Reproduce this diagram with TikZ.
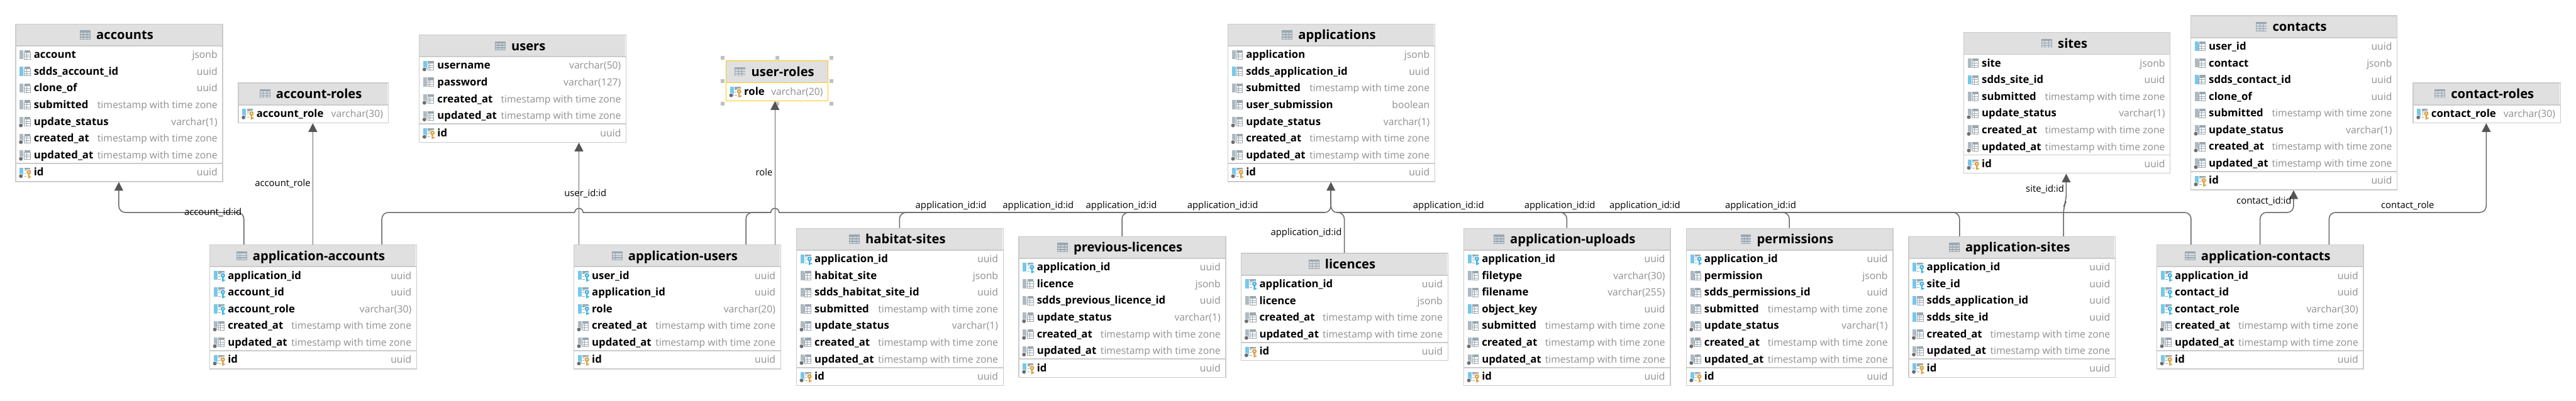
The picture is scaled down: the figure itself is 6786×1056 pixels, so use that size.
\documentclass[tikz,border=0pt]{standalone}
\usepackage{fontspec}
\setmainfont{Open Sans}
\usetikzlibrary{arrows.meta}

\definecolor{headfill}{HTML}{E0E0E0}
\definecolor{boxline}{HTML}{CBCBCB}
\definecolor{pickline}{HTML}{FFC90E}
\definecolor{handlegrey}{HTML}{C0C0C0}
\definecolor{typegrey}{HTML}{8F8F8F}
\definecolor{linkgrey}{HTML}{666666}
\definecolor{tipgrey}{HTML}{555555}
\definecolor{iconslate}{HTML}{9AA7B0}
\definecolor{icongrey}{HTML}{AEBAC2}
\definecolor{iconblue}{HTML}{76C8EA}
\definecolor{iconcell}{HTML}{D3D8DC}
\definecolor{icondot}{HTML}{6E6E6E}
\definecolor{keyblue}{HTML}{3DB4E6}
\definecolor{keyorange}{HTML}{DBA23F}

\tikzset{
    tablebox/.style={line width=0.6pt, inner sep=0pt, anchor=north west},
    tabletitle/.style={font=\bfseries\fontsize{9.5}{11}\selectfont, inner sep=0pt, anchor=base},
    colname/.style={font=\bfseries\fontsize{7.9}{9}\selectfont, inner sep=0pt, anchor=base west},
    coltype/.style={font=\fontsize{7.4}{9}\selectfont, text=typegrey, inner sep=0pt, anchor=base east},
    linklabel/.style={font=\fontsize{7}{9}\selectfont, inner sep=0pt, anchor=base},
    iconrule/.style={draw=iconslate, line width=0.45pt},
    buslink/.style={draw=linkgrey, line width=0.7pt},
    fklink/.style={buslink, rounded corners=1.7mm},
    fkarrow/.style={fklink, -{Triangle[length=2.3mm,width=2.3mm,color=tipgrey]}},
    handlemark/.style={fill=handlegrey}
}

% column icons, origin at the top left corner
\newcommand{\colsheet}{
    \fill[iconslate] (12,0) rectangle (28,6);
    \draw[iconrule] (12,6) rectangle (28,24) (18,6) -- (18,24) (12,12) -- (28,12) (12,18) -- (28,18);
}
\newcommand{\coldot}{
    \fill[white] (3,22.5) circle[radius=6.5];
    \fill[icondot] (3,22.5) circle[radius=5];
}
\newcommand{\colkey}[1]{
    \fill[iconslate] (12,0) rectangle (28,6);
    \draw[iconrule] (12,8) -- (18,8) (12,14) -- (17,14) (12,22.5) -- (18,22.5);
    \fill[white] (24,12) circle[radius=8];
    \fill[white] (20.5,17) rectangle (31,29);
    \fill[#1, even odd rule] (24,12) circle[radius=6] (24,12) circle[radius=2.5];
    \fill[#1] (22,17) rectangle (26,28) (26,23) rectangle (30,26);
}
\newcommand{\coliconp}{\fill[icongrey] (0,0) rectangle (10,24); \colsheet}
\newcommand{\coliconb}{\fill[iconblue] (0,0) rectangle (10,24); \colsheet}
\newcommand{\coliconn}{\coliconp \coldot}
\newcommand{\coliconm}{\coliconb \coldot}
\newcommand{\coliconf}{\fill[iconblue] (0,0) rectangle (10,24); \colkey{keyblue}}
\newcommand{\coliconk}{\fill[iconblue] (0,0) rectangle (10,24); \coldot \colkey{keyorange}}
\newcommand{\tableicon}{
    \fill[iconslate] (-42.7,-24) rectangle (-14.7,0);
    \foreach \celly in {-18.5,-12,-5.5} {
        \foreach \cellx in {-41.2,-32.2,-23.2} {
            \fill[iconcell] (\cellx,\celly) rectangle ++(7.5,4.2);
        }
    }
}
\newcommand{\tstz}{timestamp with time zone}

% [line colour]{name}{title}{x}{y}{width}{rows}{kind/column/type, ...}
\newcommand{\dbtable}[8][boxline]{
    \pgfmathsetmacro{\tableh}{105.2+44*(#7-1)+(#7>1 ? 1.7 : 0)}
    \fill[headfill] (#4+1,#5+1) rectangle (#4+#6-1,#5+58.6);
    \draw[#1, line width=0.85pt] (#4,#5+58.6) -- (#4+#6,#5+58.6);
    \node[tablebox, draw=#1, minimum width=#6*0.01cm, minimum height=\tableh*0.01cm] (#2) at (#4,#5) {};
    \node[tabletitle] (#2-title) at (#4+#6/2+16,#5+41.7) {#3};
    \begin{scope}[shift={(#2-title.base west)}]
        \tableicon
    \end{scope}
    \foreach \colkind/\colname/\coltext [count=\i] in {#8} {
        \def\keykind{k}
        \pgfmathsetmacro{\rowy}{#5+82.2+44*(\i-1)}
        \ifx\colkind\keykind
            \ifnum\i>1
                \pgfmathsetmacro{\rowy}{\rowy+1.7}
                \draw[#1, line width=0.85pt] (#4,\rowy-24.2) -- (#4+#6,\rowy-24.2);
            \fi
        \fi
        \begin{scope}[shift={(#4+11.5,\rowy-12.7)}]
            \csname colicon\colkind\endcsname
        \end{scope}
        \node[colname] (#2-\i) at (#4+48,\rowy+9) {\colname};
        \node[coltype] (#2-\i-type) at (#4+#6-12,\rowy+9) {\coltext};
    }
}

\begin{document}
\begin{tikzpicture}[x=0.01cm, y=-0.01cm]
    \useasboundingbox (0,0) rectangle (6786,1056);

    % Tables
    \dbtable{accounts}{accounts}{40.5}{62.6}{545}{8}{p/account/jsonb, b/sdds\_account\_id/uuid, p/clone\_of/uuid, p/submitted/\tstz, n/update\_status/varchar(1), n/created\_at/\tstz, n/updated\_at/\tstz, k/id/uuid}
    \dbtable{account-roles}{account-roles}{627}{217.5}{394.6}{1}{k/account\_role/varchar(30)}
    \dbtable{application-accounts}{application-accounts}{551.5}{644.4}{545}{6}{f/application\_id/uuid, f/account\_id/uuid, f/account\_role/varchar(30), n/created\_at/\tstz, n/updated\_at/\tstz, k/id/uuid}
    \dbtable{users}{users}{1103.5}{91}{545}{5}{m/username/varchar(50), p/password/varchar(127), n/created\_at/\tstz, n/updated\_at/\tstz, k/id/uuid}
    \dbtable[pickline]{user-roles}{user-roles}{1911.5}{159.3}{269}{1}{k/role/varchar(20)}
    \dbtable{application-users}{application-users}{1510.6}{644.4}{545}{6}{f/user\_id/uuid, f/application\_id/uuid, f/role/varchar(20), n/created\_at/\tstz, n/updated\_at/\tstz, k/id/uuid}
    \dbtable{habitat-sites}{habitat-sites}{2097}{600.8}{545}{8}{f/application\_id/uuid, p/habitat\_site/jsonb, p/sdds\_habitat\_site\_id/uuid, p/submitted/\tstz, n/update\_status/varchar(1), n/created\_at/\tstz, n/updated\_at/\tstz, k/id/uuid}
    \dbtable{previous-licences}{previous-licences}{2683}{622.6}{545}{7}{f/application\_id/uuid, p/licence/jsonb, p/sdds\_previous\_licence\_id/uuid, n/update\_status/varchar(1), n/created\_at/\tstz, n/updated\_at/\tstz, k/id/uuid}
    \dbtable{applications}{applications}{3233.7}{62.6}{545}{8}{p/application/jsonb, b/sdds\_application\_id/uuid, p/submitted/\tstz, p/user\_submission/boolean, n/update\_status/varchar(1), n/created\_at/\tstz, n/updated\_at/\tstz, k/id/uuid}
    \dbtable{licences}{licences}{3269}{666.7}{544}{5}{f/application\_id/uuid, p/licence/jsonb, n/created\_at/\tstz, n/updated\_at/\tstz, k/id/uuid}
    \dbtable{application-uploads}{application-uploads}{3855}{600.8}{544}{8}{f/application\_id/uuid, p/filetype/varchar(30), p/filename/varchar(255), b/object\_key/uuid, p/submitted/\tstz, n/created\_at/\tstz, n/updated\_at/\tstz, k/id/uuid}
    \dbtable{permissions}{permissions}{4441}{600.8}{544.5}{8}{f/application\_id/uuid, p/permission/jsonb, p/sdds\_permissions\_id/uuid, p/submitted/\tstz, n/update\_status/varchar(1), n/created\_at/\tstz, n/updated\_at/\tstz, k/id/uuid}
    \dbtable{application-sites}{application-sites}{5027}{622.6}{544.5}{7}{f/application\_id/uuid, f/site\_id/uuid, b/sdds\_application\_id/uuid, b/sdds\_site\_id/uuid, n/created\_at/\tstz, n/updated\_at/\tstz, k/id/uuid}
    \dbtable{sites}{sites}{5172}{84.8}{544}{7}{p/site/jsonb, b/sdds\_site\_id/uuid, p/submitted/\tstz, n/update\_status/varchar(1), n/created\_at/\tstz, n/updated\_at/\tstz, k/id/uuid}
    \dbtable{contacts}{contacts}{5770}{40.4}{544}{9}{b/user\_id/uuid, p/contact/jsonb, b/sdds\_contact\_id/uuid, p/clone\_of/uuid, p/submitted/\tstz, n/update\_status/varchar(1), n/created\_at/\tstz, n/updated\_at/\tstz, k/id/uuid}
    \dbtable{contact-roles}{contact-roles}{6356}{217.5}{388}{1}{k/contact\_role/varchar(30)}
    \dbtable{application-contacts}{application-contacts}{5680.6}{644.4}{544.5}{6}{f/application\_id/uuid, f/contact\_id/uuid, f/contact\_role/varchar(30), n/created\_at/\tstz, n/updated\_at/\tstz, k/id/uuid}

    % Selection handles
    \foreach \handlex/\handley [count=\h] in {1904/152, 2047/152, 2190/152, 1904/213, 2190/213, 1904/274, 2047/274, 2190/274} {
        \fill[handlemark] (\handlex-5,\handley-5) rectangle (\handlex+5,\handley+5);
    }

    % Bends on the bus
    \coordinate (accountfk) at (642.5,560);
    \coordinate (accountup) at (313,560);
    \coordinate (rolefk) at (824,560);
    \coordinate (appaccounts) at (1006,560);
    \coordinate (userfk) at (1525,560);
    \coordinate (hopusers) at (1514,560);
    \coordinate (appusers) at (1965,560);
    \coordinate (userrolefk) at (2041.5,560);
    \coordinate (hoprole) at (2030.5,560);
    \coordinate (apphabitat) at (2369.7,560);
    \coordinate (appprevious) at (2955.6,560);
    \coordinate (hubleft) at (3490,560);
    \coordinate (hubright) at (3522,560);
    \coordinate (hubtop) at (3506,540);
    \coordinate (applicences) at (3541.3,560);
    \coordinate (appuploads) at (4127.5,560);
    \coordinate (apppermissions) at (4713.5,560);
    \coordinate (appsites) at (5162,560);
    \coordinate (sitefoot) at (5435.8,546);
    \coordinate (sitebend) at (5443,530);
    \coordinate (appcontacts) at (5772,560);
    \coordinate (contactfk) at (5953.8,560);
    \coordinate (contactup) at (6042,560);
    \coordinate (contactrolefk) at (6135.5,560);
    \coordinate (contactroleup) at (6549.5,560);

    % application-accounts
    \draw[fkarrow] (application-accounts.north -| accountfk) -- (accountfk) -- (accountup) -- (accounts.south -| accountup);
    \draw[fkarrow] (application-accounts.north -| rolefk) -- (account-roles.south -| rolefk);
    \draw[fklink] (application-accounts.north -| appaccounts) -- (appaccounts) -- (hopusers);
    \draw[buslink] (hopusers) arc[start angle=180, end angle=360, radius=11] -- (hoprole) arc[start angle=180, end angle=360, radius=11] -- (hubleft);

    % application-users
    \draw[fkarrow] (application-users.north -| userfk) -- (users.south -| userfk);
    \draw[fklink] (application-users.north -| appusers) -- (appusers) -- (hoprole);
    \draw[fkarrow] (application-users.north -| userrolefk) -- (user-roles.south -| userrolefk);

    % applications
    \draw[fkarrow] (hubtop) -- (applications.south -| hubtop);
    \draw[buslink] (hubleft) .. controls (3500,560) and (3506,552) .. (hubtop);
    \draw[buslink] (hubright) .. controls (3512,560) and (3506,552) .. (hubtop);

    % other tables on the bus
    \draw[fklink] (habitat-sites.north -| apphabitat) -- (apphabitat) -- (hubleft);
    \draw[fklink] (previous-licences.north -| appprevious) -- (appprevious) -- (hubleft);
    \draw[fklink] (licences.north -| applicences) -- (applicences) -- (hubright);
    \draw[fklink] (application-uploads.north -| appuploads) -- (appuploads) -- (hubright);
    \draw[fklink] (permissions.north -| apppermissions) -- (apppermissions) -- (hubright);
    \draw[fklink] (application-sites.north -| appsites) -- (appsites) -- (hubright);
    \draw[fklink] (application-contacts.north -| appcontacts) -- (appcontacts) -- (hubright);

    % application-sites
    \draw[fkarrow] (application-sites.north -| sitefoot) -- (sitefoot) -- (sitebend) -- (sites.south -| sitebend);

    % application-contacts
    \draw[fkarrow] (application-contacts.north -| contactfk) -- (contactfk) -- (contactup) -- (contacts.south -| contactup);
    \draw[fkarrow] (application-contacts.north -| contactrolefk) -- (contactrolefk) -- (contactroleup) -- (contact-roles.south -| contactroleup);

    % Labels
    \node[linklabel] (label-account) at (561,567) {account\_id:id};
    \node[linklabel, anchor=base east] (label-accountrole) at (818.5,492) {account\_role};
    \node[linklabel] (label-user) at (1542,517) {user\_id:id};
    \node[linklabel, anchor=base east] (label-role) at (2036,463) {role};
    \node[linklabel] (label-app1) at (2505,550) {application\_id:id};
    \node[linklabel] (label-app2) at (2735,550) {application\_id:id};
    \node[linklabel] (label-app3) at (2954,550) {application\_id:id};
    \node[linklabel] (label-app4) at (3221,550) {application\_id:id};
    \node[linklabel] (label-app5) at (3441,621) {application\_id:id};
    \node[linklabel] (label-app6) at (3816,550) {application\_id:id};
    \node[linklabel] (label-app7) at (4109,550) {application\_id:id};
    \node[linklabel] (label-app8) at (4333,550) {application\_id:id};
    \node[linklabel] (label-app9) at (4638,550) {application\_id:id};
    \node[linklabel, anchor=base east] (label-site) at (5438,506) {site\_id:id};
    \node[linklabel] (label-contact) at (5964,538) {contact\_id:id};
    \node[linklabel] (label-contactrole) at (6342.5,550) {contact\_role};
\end{tikzpicture}
\end{document}
